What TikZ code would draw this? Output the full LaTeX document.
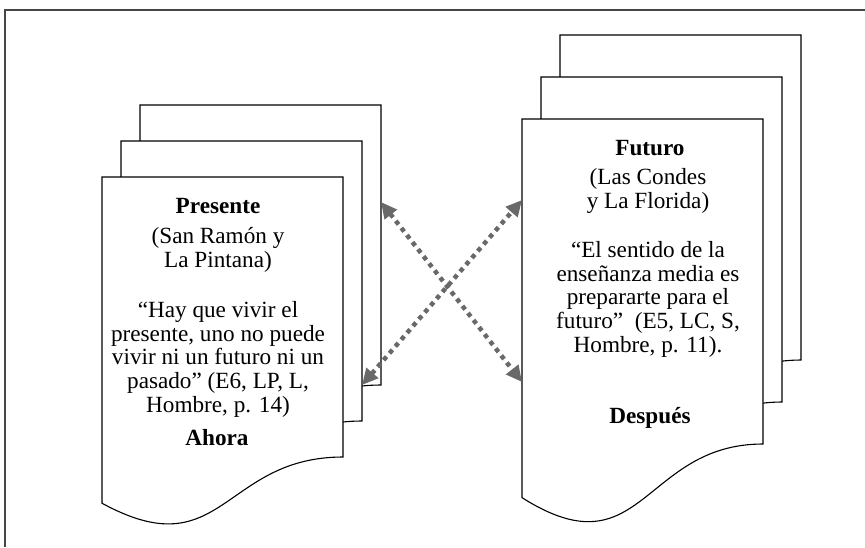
\documentclass[tikz,border=0pt]{standalone}
\usepackage{fontspec}
\setmainfont{Liberation Serif}
\usetikzlibrary{arrows.meta}

\definecolor{linkgray}{RGB}{105,105,105}
\definecolor{framegray}{RGB}{70,70,70}

% one sheet of a document stack: x, y (top left), width, height of right side
\newcommand{\docpage}[4]{%
    \filldraw[page] (#1,#2) -- ({#1+#3},#2) -- ({#1+#3},{#2+#4})
        .. controls ({#1+#3/2},{#2+#4}) and ({#1+#3/2},{#2+1.4*#4}) .. (#1,{#2+1.165*#4}) -- cycle;
}

\tikzset{
    page/.style={draw=black, fill=white, line width=1.1pt},
    txt/.style={font=\fontsize{23.2}{23.6}\selectfont, align=center, inner sep=0pt, anchor=base},
    ttl/.style={txt, font=\fontsize{23.2}{23.6}\selectfont\bfseries},
    link/.style={draw=linkgray, line width=4.5pt, dash pattern=on 4.5pt off 4.5pt,
        {Triangle[length=16pt,width=15pt]}-{Triangle[length=16pt,width=15pt]}}
}

\begin{document}
\begin{tikzpicture}[x=1pt, y=-1pt]
    \useasboundingbox (0,0) rectangle (865,547);

    % Frame
    \draw[framegray, line width=1.5pt] (5,547) -- (5,10) -- (865,10);

    % Stack on the left (present)
    \foreach \i in {0,1,2} {
        \pgfmathsetmacro{\px}{140-19*\i}
        \pgfmathsetmacro{\py}{105+36*\i}
        \docpage{\px}{\py}{241}{280}
    }
    % Stack on the right (future)
    \foreach \i in {0,1,2} {
        \pgfmathsetmacro{\px}{560-19*\i}
        \pgfmathsetmacro{\py}{35+42*\i}
        \docpage{\px}{\py}{241}{325}
    }

    % Texts (base = last line)
    \node[ttl] (presente) at (218,213) {Presente};
    \node[txt] (sanramon) at (218,267) {(San Ramón y\\La Pintana)};
    \node[txt] (citaE6) at (218,412) {“Hay que vivir el\\presente, uno no puede\\vivir ni un futuro ni un\\pasado” (E6, LP, L,\\Hombre, p. 14)};
    \node[ttl] (ahora) at (217,445) {Ahora};

    \node[ttl] (futuro) at (650,155) {Futuro};
    \node[txt] (lascondes) at (648,208) {(Las Condes\\y La Florida)};
    \node[txt] (citaE5) at (648,352) {“El sentido de la\\enseñanza media es\\prepararte para el\\futuro”~ (E5, LC, S,\\Hombre, p. 11).};
    \node[ttl] (despues) at (650,423) {Después};

    % Arrows between the stacks
    \coordinate (presBackR) at (381,202);
    \coordinate (presMidR) at (362,385);
    \coordinate (futTop) at (522,200);
    \coordinate (futLow) at (522,382);
    \draw[link] (presBackR) -- (futLow);
    \draw[link] (presMidR) -- (futTop);
\end{tikzpicture}
\end{document}
